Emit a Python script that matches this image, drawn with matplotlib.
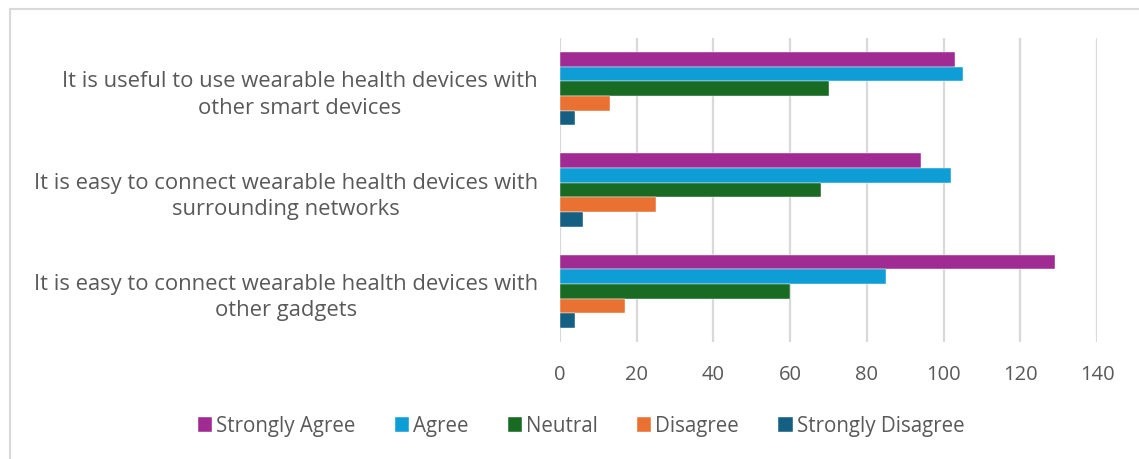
import numpy as np
import matplotlib.pyplot as plt
from matplotlib.patches import Rectangle

plt.rcParams['font.family'] = ['Open Sans', 'DejaVu Sans']

categories = [
    "It is useful to use wearable health devices with\nother smart devices",
    "It is easy to connect wearable health devices with\nsurrounding networks",
    "It is easy to connect wearable health devices with\nother gadgets",
]
series_names = ["Strongly Agree", "Agree", "Neutral", "Disagree", "Strongly Disagree"]
strongly_agree = [103, 94, 129]
agree = [105, 102, 85]
neutral = [70, 68, 60]
disagree = [13, 25, 17]
strongly_disagree = [4, 6, 4]
xticks = [0, 20, 40, 60, 80, 100, 120, 140]

colors = ["#A02B93", "#0E9ED5", "#196B24", "#E97132", "#156082"]
text_col = "#595959"

values = [strongly_agree, agree, neutral, disagree, strongly_disagree]

fig = plt.figure(figsize=(11.39, 4.60), dpi=100)
ax = fig.add_axes([560 / 1139, 1 - 343 / 460, 537 / 1139, 304 / 460])

# border of the chart area (top/left visible only)
fig.patches.append(Rectangle((10 / 1139, -0.5), 2, 1.5 - 10 / 460, transform=fig.transFigure,
                             fill=False, edgecolor="#d9d9d9", lw=1.5))

y = np.arange(len(categories))
bar_h = 0.1447
for i, (name, vals) in enumerate(zip(series_names, values)):
    offs = (i - 2) * bar_h
    ax.barh(y + offs, vals, height=bar_h, color=colors[i], label=name,
            edgecolor="white", linewidth=0.3)

ax.set_ylim(2.5, -0.5)
ax.set_xlim(0, 140)
ax.set_xticks(xticks)
ax.set_yticks(y)
ax.set_yticklabels(categories)
for lab in ax.get_yticklabels():
    lab.set_multialignment('center')
    lab.set_linespacing(1.35)

ax.grid(axis='x', color="#d9d9d9", lw=1.6)
ax.set_axisbelow(True)
for s in ax.spines.values():
    s.set_visible(False)
ax.tick_params(axis='both', length=0, labelsize=14.5, labelcolor=text_col)
ax.tick_params(axis='y', pad=16, labelsize=15.8)
ax.tick_params(axis='x', pad=16)

fig.legend(loc='center', bbox_to_anchor=(581 / 1139, 1 - 427 / 460), ncol=5, frameon=False,
           fontsize=14.8, labelcolor=text_col, handlelength=0.7, handleheight=0.7,
           handletextpad=0.2, columnspacing=1.9)

fig.savefig("out.png", dpi=100)
